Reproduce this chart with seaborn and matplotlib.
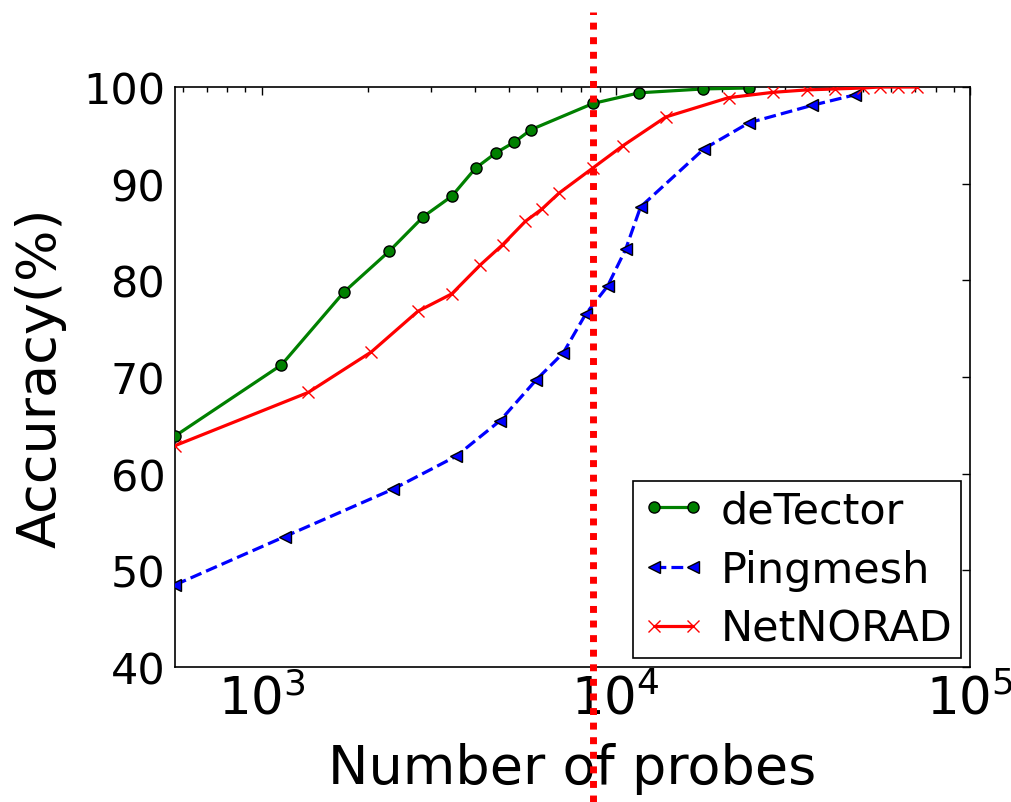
import matplotlib
matplotlib.use("Agg")
import matplotlib.pyplot as plt
import seaborn as sns
import pandas as pd

# ---- data ----
detector_x = [570, 1138, 1710, 2291, 2865, 3443, 4018, 4594, 5173, 5772, 8630, 11650, 17650, 23700]
detector_y = [63.9, 71.25, 78.8, 83.0, 86.6, 88.7, 91.6, 93.2, 94.3, 95.6, 98.3, 99.4, 99.8, 99.9]

pingmesh_x = [570, 1164, 2350, 3540, 4720, 5960, 7110, 8220, 9480, 10660, 11750, 17740, 23770, 35800, 47440]
pingmesh_y = [48.5, 53.5, 58.4, 61.8, 65.5, 69.7, 72.5, 76.5, 79.4, 83.2, 87.6, 93.6, 96.3, 98.1, 99.2]

netnorad_x = [570, 1354, 2042, 2762, 3443, 4147, 4797, 5554, 6196, 6902, 8600, 10450, 13840,
              20830, 27790, 34560, 41700, 50000, 55700, 62800, 70800]
netnorad_y = [62.9, 68.4, 72.6, 76.8, 78.6, 81.6, 83.7, 86.1, 87.4, 89.0, 91.6, 93.9, 96.9,
              98.9, 99.45, 99.7, 99.8, 99.9, 100, 100, 100]

series_names = ["deTector", "Pingmesh", "NetNORAD"]
y_ticks = [40, 50, 60, 70, 80, 90, 100]
x_limits = (570, 1e5)
marker_line_x = 8600

sns.set_style("white")
plt.rcParams["font.family"] = ["DejaVu Sans"]
plt.rcParams["mathtext.fontset"] = "dejavusans"
plt.rcParams["text.color"] = "black"
plt.rcParams["axes.labelcolor"] = "black"
plt.rcParams["xtick.color"] = "black"
plt.rcParams["ytick.color"] = "black"

fig = plt.figure(figsize=(10.12, 8.03), dpi=100)
ax = fig.add_axes([0.173, 0.1681, 0.7855, 0.7223])

df_det = pd.DataFrame({"x": detector_x, "y": detector_y})
df_ping = pd.DataFrame({"x": pingmesh_x, "y": pingmesh_y})
df_net = pd.DataFrame({"x": netnorad_x, "y": netnorad_y})

sns.lineplot(data=df_det, x="x", y="y", ax=ax, color="green", marker="o", markersize=8,
             markeredgecolor="black", markeredgewidth=1, linewidth=2.3, label=series_names[0],
             estimator=None, sort=False, zorder=3)
sns.lineplot(data=df_ping, x="x", y="y", ax=ax, color="blue", marker="<", markersize=9,
             markeredgecolor="black", markeredgewidth=1, linewidth=2.3, linestyle="--",
             dashes=(6, 3.5), label=series_names[1], estimator=None, sort=False, zorder=3)
sns.lineplot(data=df_net, x="x", y="y", ax=ax, color="red", marker="x", markersize=9,
             markeredgecolor="red", markeredgewidth=1, linewidth=2.3, label=series_names[2],
             estimator=None, sort=False, zorder=3)

ax.set_xscale("log")
ax.set_xlim(*x_limits)
ax.set_ylim(40, 100)
ax.set_yticks(y_ticks)
ax.set_xlabel("Number of probes", fontsize=39, labelpad=12)
ax.set_ylabel("Accuracy(%)", fontsize=39, labelpad=12)

for s in ax.spines.values():
    s.set_visible(True)
    s.set_color("black")
    s.set_linewidth(1.2)

ax.tick_params(axis="both", which="major", direction="in", length=6, width=1,
               top=True, right=True, pad=7, color="black")
ax.tick_params(axis="y", which="major", labelsize=31)
ax.tick_params(axis="x", which="major", labelsize=37, pad=5)
ax.tick_params(axis="both", which="minor", direction="in", length=3.5, width=1,
               top=True, right=True, color="black")
ax.grid(False)

leg = ax.legend(loc="lower right", fontsize=31, numpoints=2, fancybox=False, framealpha=1,
                edgecolor="black", handlelength=1.5, handletextpad=0.35, borderpad=0.2,
                labelspacing=0.4, borderaxespad=0.2)
leg.get_frame().set_linewidth(1.2)

# red dotted vertical marker line extending past the axes
ax.axvline(marker_line_x, ymin=-0.233, ymax=1.13, color="red", linestyle=(0, (1, 1.1)),
           linewidth=5, clip_on=False, zorder=10)

fig.savefig("out.png", dpi=100)
